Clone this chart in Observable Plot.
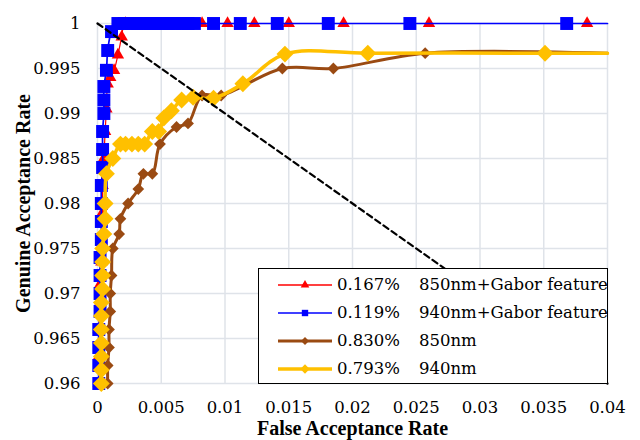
<!DOCTYPE html>
<html>
<head>
<meta charset="utf-8">
<script src="https://cdn.jsdelivr.net/npm/d3@7"></script>
<script src="https://cdn.jsdelivr.net/npm/@observablehq/plot@0.6"></script>
<style>
  body { margin: 0; background: #fff; }
  #wrap { position: relative; width: 640px; height: 440px; font-family: 'DejaVu Serif', serif; }
  #legend { position: absolute; left: 258px; top: 268px; width: 350px; height: 116px; border: 1.5px solid #000; background: #fff; box-sizing: border-box; }
  .row { position: absolute; left: 0; height: 28px; width: 100%; font-family: 'DejaVu Serif', serif; font-weight: 400; font-size: 16.5px; line-height: 28px; color: #000; }
  .row svg { position: absolute; left: 17px; top: 4px; }
  .pct { position: absolute; left: 78px; }
  .name { position: absolute; left: 160px; white-space: nowrap; }
</style>
</head>
<body>
<div id="wrap"><div id="legend"></div></div>
<script>
// ---- data ----
const xTicks = [0, 0.005, 0.01, 0.015, 0.02, 0.025, 0.03, 0.035, 0.04];
const yTicks = [0.96, 0.965, 0.97, 0.975, 0.98, 0.985, 0.99, 0.995, 1];

const seriesNames = ["850nm+Gabor feature", "940nm+Gabor feature", "850nm", "940nm"];
const seriesEER = ["0.167%", "0.119%", "0.830%", "0.793%"];

const redX = [0.0001,0.0001,0.0001,0.0002,0.0002,0.0003,0.0003,0.0004,0.0004,0.0005,0.0006,0.0007,0.0008,0.0010,0.0013,0.0016,0.0019,0.0022,0.0082,0.0102,0.0123,0.0150,0.0193,0.0260,0.0384];
const redY = [0.960,0.963,0.966,0.969,0.971,0.9735,0.976,0.979,0.982,0.985,0.988,0.9905,0.9933,0.9940,0.9948,0.9965,0.9985,1,1,1,1,1,1,1,1];

const blueX = [0.0001,0.0001,0.0001,0.0001,0.0002,0.0002,0.0002,0.0002,0.0003,0.0003,0.0003,0.0003,0.0004,0.0004,0.0004,0.0005,0.0005,0.0005,0.0007,0.0008,0.0011,0.0016,0.0021,0.0026,0.0031,0.0036,0.0041,0.0046,0.0051,0.0056,0.0061,0.0066,0.0071,0.0076,0.0091,0.0112,0.0141,0.0181,0.0245,0.0368];
const blueY = [0.960,0.962,0.964,0.966,0.968,0.970,0.972,0.974,0.976,0.978,0.980,0.982,0.984,0.986,0.988,0.990,0.9915,0.993,0.9948,0.997,0.9991,1,1,1,1,1,1,1,1,1,1,1,1,1,1,1,1,1,1,1];

const brownX = [0.0008,0.0008,0.0009,0.0009,0.0010,0.0010,0.0011,0.0012,0.0017,0.0018,0.0024,0.0032,0.0036,0.0043,0.0049,0.0062,0.0071,0.0082,0.0097,0.0145,0.0185,0.0257];
const brownY = [0.960,0.962,0.964,0.966,0.968,0.970,0.972,0.975,0.9766,0.9783,0.980,0.9816,0.9833,0.9833,0.9866,0.9885,0.9889,0.992,0.992,0.995,0.995,0.9967];

const yellowX = [0.0003,0.0003,0.0003,0.0003,0.0003,0.0003,0.0003,0.0004,0.0004,0.0004,0.0004,0.0005,0.0006,0.0006,0.0007,0.0012,0.0018,0.0022,0.0027,0.0032,0.0037,0.0043,0.0048,0.0052,0.0058,0.0066,0.0075,0.0091,0.0114,0.0147,0.0212,0.0351];
const yellowY = [0.960,0.9615,0.963,0.9645,0.966,0.9675,0.969,0.9705,0.972,0.9735,0.975,0.9766,0.9783,0.980,0.9833,0.985,0.9866,0.9866,0.9866,0.9866,0.9866,0.988,0.988,0.9895,0.9903,0.9915,0.9918,0.9917,0.9933,0.9966,0.9967,0.9967];

// ---- styles ----
const FONT = "'DejaVu Serif', serif";
const TITLE_FONT = "'Liberation Serif', 'DejaVu Serif', serif";
const xDomain = [0, 0.04], yDomain = [0.96, 1];
const styles = [
  {color: "#ff0000", symbol: "triangle", r: 4.6, width: 1.2, lr: 3.2},
  {color: "#0000ff", symbol: "square", r: 7.3, width: 1.7, lr: 3.6},
  {color: "#9a4a12", symbol: "diamond2", r: 5.3, width: 3, lr: 3.6},
  {color: "#ffc000", symbol: "diamond2", r: 7.6, width: 3.5, lr: 4.2}
];
const raw = [[redX, redY], [blueX, blueY], [brownX, brownY], [yellowX, yellowY]];
const pts = raw.map(([xs, ys]) => xs.map((x, i) => ({x, y: ys[i]})));
const linePts = pts.map(p => p.concat([{x: xDomain[1], y: p[p.length - 1].y}]));

const fmt = d => String(d);
const marks = [
  Plot.gridX(xTicks, {stroke: "#dfe3e9", strokeOpacity: 1, strokeWidth: 1.5}),
  Plot.gridY(yTicks, {stroke: "#dfe3e9", strokeOpacity: 1, strokeWidth: 1.5}),
  Plot.axisX(xTicks, {tickSize: 0, tickPadding: 18, tickFormat: fmt, fontSize: 16.5, fontFamily: FONT, fontVariant: "normal", label: null}),
  Plot.axisY(yTicks, {tickSize: 0, tickPadding: 17, tickFormat: fmt, fontSize: 16.5, fontFamily: FONT, fontVariant: "normal", label: null})
];
pts.forEach((p, i) => {
  const s = styles[i];
  marks.push(Plot.line(linePts[i], {x: "x", y: "y", stroke: s.color, strokeWidth: s.width, curve: "catmull-rom"}));
  marks.push(Plot.dot(p, {x: "x", y: "y", symbol: () => s.symbol, r: s.r, fill: s.color, stroke: "none"}));
});
marks.push(Plot.line([{x: xDomain[0], y: yDomain[1]}, {x: xDomain[1], y: yDomain[0]}],
  {x: "x", y: "y", stroke: "#000", strokeWidth: 2.2, strokeDasharray: "6,4"}));
marks.push(Plot.text(["False Acceptance Rate"], {text: d => d, frameAnchor: "bottom", textAnchor: "middle", dy: 45, fontSize: 20, fontWeight: "bold", fontFamily: TITLE_FONT, lineAnchor: "middle"}));
marks.push(Plot.text(["Genuine Acceptance Rate"], {text: d => d, frameAnchor: "left", textAnchor: "middle", dx: -74, rotate: -90, fontSize: 20, fontWeight: "bold", fontFamily: TITLE_FONT, lineAnchor: "middle"}));

const chart = Plot.plot({
  width: 640, height: 440,
  marginLeft: 97, marginRight: 33, marginTop: 23, marginBottom: 57,
  x: {domain: xDomain, label: null},
  y: {domain: yDomain, label: null},
  style: {fontFamily: FONT, fontSize: "16.5px", color: "#000", background: "#fff", overflow: "visible"},
  marks
});
const wrap = document.getElementById("wrap");
wrap.insertBefore(chart, wrap.firstChild);

// ---- legend ----
const legend = document.getElementById("legend");
seriesNames.forEach((name, i) => {
  const s = styles[i];
  const row = document.createElement("div");
  row.className = "row";
  row.style.top = (2 + i * 28) + "px";
  const sym = d3.symbol(d3["symbol" + {triangle: "Triangle", square: "Square", diamond2: "Diamond2"}[s.symbol]], Math.PI * s.lr * s.lr)();
  row.innerHTML = `<svg width="58" height="20"><line x1="2" x2="56" y1="10" y2="10" stroke="${s.color}" stroke-width="${Math.max(s.width, 1.5)}"/><path d="${sym}" transform="translate(29,10)" fill="${s.color}"/></svg><span class="pct">${seriesEER[i]}</span><span class="name">${name}</span>`;
  legend.appendChild(row);
});
</script>
</body>
</html>
